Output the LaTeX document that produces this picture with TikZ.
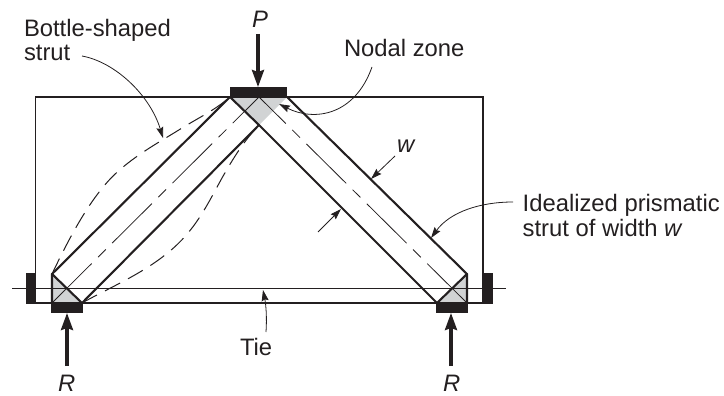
\documentclass[tikz,border=0pt]{standalone}
\usepackage{fontspec}
\setmainfont{Liberation Sans}
\usetikzlibrary{arrows.meta}
\definecolor{ink}{HTML}{231F20}
\definecolor{nodal}{HTML}{D1D3D4}
\tikzset{
  frameline/.style={draw=ink,line width=1.7pt},
  strutline/.style={draw=ink,line width=2.1pt,line cap=round},
  axisline/.style={draw=ink,line width=0.8pt,dash pattern=on 56pt off 9pt on 11pt off 9pt},
  bottle/.style={draw=ink,line width=1pt,dash pattern=on 17pt off 9pt},
  plate/.style={fill=ink,draw=none},
  nodalzone/.style={fill=nodal,draw=none},
  load/.style={draw=ink,line width=3.2pt,-{Stealth[length=17pt,width=12pt,inset=2pt]}},
  leader/.style={draw=ink,line width=0.8pt,-{Stealth[length=11pt,width=7pt,inset=1.5pt]}},
  label/.style={anchor=base west,inner sep=0pt,outer sep=0pt,text=ink,font=\fontsize{23.8}{24.4}\selectfont,align=left},
}
\begin{document}
\begin{tikzpicture}[x=1pt,y=-1pt]
\useasboundingbox (0,0) rectangle (724,396);
% key points
\coordinate (TL) at (230,97);
\coordinate (TR) at (287,97);
\coordinate (TB) at (259,125);
\coordinate (TC) at (259,97);
\coordinate (LT) at (52,274);
\coordinate (LC) at (52,303);
\coordinate (LR) at (82,303);
\coordinate (RT) at (467,274);
\coordinate (RC) at (467,303);
\coordinate (RL) at (437,303);
% nodal zones
\fill[nodalzone] (TL) -- (TR) -- (TB) -- cycle;
\fill[nodalzone] (LT) -- (LC) -- (LR) -- cycle;
\fill[nodalzone] (RT) -- (RC) -- (RL) -- cycle;
% frame and tie
\draw[frameline] (35.5,303) -- (35.5,97) -- (482.7,97) -- (482.7,303);
\draw[frameline] (35.5,303) -- (482.7,303);
\draw[draw=ink,line width=1.5pt] (12,288.3) -- (506,288.3);
% plates
\fill[plate] (230,87) rectangle (287,97.5);
\fill[plate] (51,303) rectangle (82.5,313);
\fill[plate] (436,303) rectangle (467.5,313);
\fill[plate] (26,273) rectangle (36,304);
\fill[plate] (483,273) rectangle (492.5,304);
% struts
\draw[strutline] (LC) -- (LT) -- (TL);
\draw[strutline] (LT) -- (LR) -- (TB);
\draw[strutline] (TL) -- (TB) -- (RL);
\draw[strutline] (TR) -- (RT) -- (RC);
\draw[strutline] (RT) -- (RL);
% axes
\draw[axisline] (LC) -- (TC);
\draw[axisline] (RC) -- (TC);
% bottle outline
\draw[bottle] (LT) .. controls (72,232) and (88,205) .. (104,186)
  .. controls (125,160) and (160,142) .. (182,128) .. controls (200,117) and (215,110) .. (TL);
\draw[bottle] (LR) .. controls (105,290) and (140,275) .. (165,255)
  .. controls (195,232) and (207,205) .. (222,178) .. controls (235,155) and (245,140) .. (TB);
% labels
\node[label] (Lbottle) at (24,61) {Bottle-shaped\\strut};
\node[label] (Lnodal) at (344,56.7) {Nodal zone};
\node[label] (Lideal) at (522.7,236) {Idealized prismatic\\strut of width \textit{w}};
\node[label] (Lp) at (252,28) {\textit{P}};
\node[label] (Lw) at (397,153) {\textit{w}};
\node[label] (Ltie) at (240,355) {Tie};
\node[label] (Lr1) at (58,391) {\textit{R}};
\node[label] (Lr2) at (443,391) {\textit{R}};
% loads
\coordinate (Pstart) at (258,34);
\coordinate (Ptip) at (258,87);
\coordinate (R1start) at (67,366);
\coordinate (R1tip) at (67,313);
\coordinate (R2start) at (451,366);
\coordinate (R2tip) at (451,313);
\draw[load] (Pstart) -- (Ptip);
\draw[load] (R1start) -- (R1tip);
\draw[load] (R2start) -- (R2tip);
% leaders
\coordinate (Bs) at (82,56); \coordinate (Be) at (163,138);
\coordinate (Ns) at (372,67); \coordinate (Ne) at (279,104);
\coordinate (Is) at (513,202); \coordinate (Ie) at (431,238);
\coordinate (Ts) at (266,332); \coordinate (Te) at (263,290);
\coordinate (W1s) at (395,156); \coordinate (W1e) at (371,179);
\coordinate (W2s) at (318,232); \coordinate (W2e) at (341,209);
\draw[leader] (Bs) .. controls (115,62) and (150,95) .. (Be);
\draw[leader] (Ns) .. controls (355,115) and (315,122) .. (Ne);
\draw[leader] (Is) .. controls (480,202) and (450,212) .. (Ie);
\draw[leader] (Ts) .. controls (267,318) and (266,305) .. (Te);
\draw[leader] (W1s) -- (W1e);
\draw[leader] (W2s) -- (W2e);
\end{tikzpicture}
\end{document}
